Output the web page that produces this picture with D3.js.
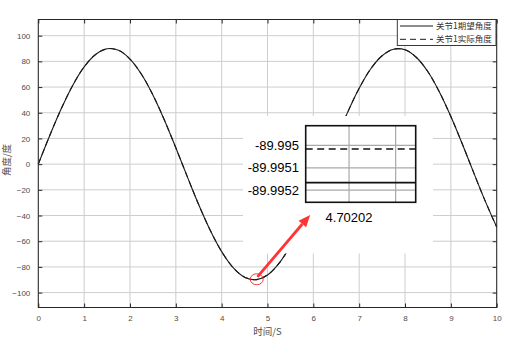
<!DOCTYPE html>
<html>
<head>
<meta charset="utf-8">
<script src="https://cdn.jsdelivr.net/npm/d3@7"></script>
<style>
  body { margin: 0; background: #fff; }
  text { font-family: "Liberation Sans", Arial, sans-serif; }
  .cjk { font-family: "Noto Sans CJK SC", sans-serif; }
</style>
</head>
<body>
<div id="chart"></div>
<script>
  // ------------ //
 // Chart data   //
// ------------ //
var timeS = [0, 0.25, 0.5, 0.75, 1, 1.25, 1.5, 1.75, 2, 2.25, 2.5, 2.75, 3, 3.25, 3.5, 3.75,
  4, 4.25, 4.5, 4.75, 5, 5.25, 5.5, 5.75, 6, 6.25, 6.5, 6.75, 7, 7.25, 7.5, 7.75,
  8, 8.25, 8.5, 8.75, 9, 9.25, 9.5, 9.75, 10];
var desiredAngle = [0, 22.3, 43.1, 61.3, 75.7, 85.4, 89.8, 88.6, 81.8, 70.0, 53.9, 34.4, 12.7, -9.7, -31.6, -51.4,
  -68.1, -80.5, -88.0, -89.9, -86.3, -77.3, -63.5, -45.7, -25.1, -3.0, 19.4, 40.5, 59.1, 74.1, 84.4, 89.5,
  89.0, 83.0, 71.9, 56.2, 37.1, 15.7, -6.8, -28.8, -49.0];
var actualAngle = desiredAngle.slice();

var xTicks = [0, 1, 2, 3, 4, 5, 6, 7, 8, 9, 10];
var yTicks = [-100, -80, -60, -40, -20, 0, 20, 40, 60, 80, 100];

var legendLabels = ["关节1期望角度", "关节1实际角度"];

// zoomed-in inset
var zoomTime = [4.7020107, 4.7020343];
var zoomDesired = [-89.995166, -89.995166];
var zoomActual = [-89.995016, -89.995016];
var zoomYTicks = [-89.995, -89.9951, -89.9952];
var zoomYLabels = ["-89.995", "-89.9951", "-89.9952"];
var zoomXTicks = [4.70202, 4.70203];
var zoomXLabels = ["4.70202", ""];

// marked point on the curve and where the arrow points
var markPoint = [4.765, -89.6];
var arrowTail = [4.78, -87.8];
var arrowHead = [5.93, -39.5];

  // ------------ //
 // Set up chart //
// ------------ //
var svgWidth = 517;
var svgHeight = 340;
var plotLeft = 38.3, plotRight = 496.7, plotTop = 19.5, plotBottom = 307.5;

var svg = d3.select("#chart")
  .append("svg")
  .attr("width", svgWidth)
  .attr("height", svgHeight);

svg.append("rect").attr("width", svgWidth).attr("height", svgHeight).attr("fill", "#fff");

var x = d3.scaleLinear().domain([0, 10]).range([plotLeft, plotRight]);
var y = d3.scaleLinear().domain([-111.6, 112.6]).range([plotBottom, plotTop]);

var axisColor = "#262626";
var gridColor = "#cdcdcd";

  // ----------- //
 // Grid lines  //
// ----------- //
svg.append("g").selectAll("line")
  .data(xTicks)
  .enter().append("line")
  .attr("x1", d => x(d)).attr("x2", d => x(d))
  .attr("y1", plotTop).attr("y2", plotBottom)
  .attr("stroke", gridColor).attr("stroke-width", 1);

svg.append("g").selectAll("line")
  .data(yTicks)
  .enter().append("line")
  .attr("x1", plotLeft).attr("x2", plotRight)
  .attr("y1", d => y(d)).attr("y2", d => y(d))
  .attr("stroke", gridColor).attr("stroke-width", 1);

  // ------------ //
 // Main curves  //
// ------------ //
var line = d3.line()
  .x(d => x(d[0]))
  .y(d => y(d[1]))
  .curve(d3.curveCatmullRom);

svg.append("path")
  .datum(timeS.map((t, i) => [t, actualAngle[i]]))
  .attr("d", line)
  .attr("fill", "none")
  .attr("stroke", "#1a1a1a")
  .attr("stroke-width", 1.1)
  .attr("stroke-dasharray", "6,4");

svg.append("path")
  .datum(timeS.map((t, i) => [t, desiredAngle[i]]))
  .attr("d", line)
  .attr("fill", "none")
  .attr("stroke", "#1a1a1a")
  .attr("stroke-width", 1.1);

  // ------------------------ //
 // Axes: box, ticks, labels //
// ------------------------ //
var bottomAxis = d3.axisBottom(x).tickValues(xTicks).tickSize(-4).tickPadding(8);
var topAxis = d3.axisTop(x).tickValues(xTicks).tickSize(-4).tickFormat("");
var leftAxis = d3.axisLeft(y).tickValues(yTicks).tickSize(-4).tickPadding(8);
var rightAxis = d3.axisRight(y).tickValues(yTicks).tickSize(-4).tickFormat("");

function styleAxis(g) {
  g.select(".domain").remove();
  g.selectAll(".tick line").attr("stroke", axisColor);
  g.selectAll(".tick text").attr("fill", "#4d4d4d").attr("font-size", 8)
    .attr("font-family", "Liberation Sans, Arial, sans-serif");
}

svg.append("g").attr("transform", `translate(0, ${plotBottom})`).call(bottomAxis).call(styleAxis);
svg.append("g").attr("transform", `translate(0, ${plotTop})`).call(topAxis).call(styleAxis);
svg.append("g").attr("transform", `translate(${plotLeft}, 0)`).call(leftAxis).call(styleAxis);
svg.append("g").attr("transform", `translate(${plotRight}, 0)`).call(rightAxis).call(styleAxis);

svg.append("rect")
  .attr("x", plotLeft).attr("y", plotTop)
  .attr("width", plotRight - plotLeft).attr("height", plotBottom - plotTop)
  .attr("fill", "none")
  .attr("stroke", axisColor)
  .attr("stroke-width", 1);

svg.append("text")
  .attr("class", "cjk")
  .attr("x", (plotLeft + plotRight) / 2)
  .attr("y", 335)
  .attr("text-anchor", "middle")
  .attr("font-size", 9.5)
  .attr("fill", "#4d4d4d")
  .text("时间/S");

svg.append("text")
  .attr("class", "cjk")
  .attr("transform", "translate(10, 160) rotate(-90)")
  .attr("text-anchor", "middle")
  .attr("font-size", 9.5)
  .attr("fill", "#4d4d4d")
  .text("角度/度");

  // -------- //
 // Legend   //
// -------- //
var legend = svg.append("g");
legend.append("rect")
  .attr("x", 397.3).attr("y", plotTop)
  .attr("width", 98.7).attr("height", 26)
  .attr("fill", "#fff")
  .attr("stroke", axisColor)
  .attr("stroke-width", 0.9);

legend.selectAll("line")
  .data(legendLabels)
  .enter().append("line")
  .attr("x1", 400).attr("x2", 433)
  .attr("y1", (d, i) => 26 + i * 13.3).attr("y2", (d, i) => 26 + i * 13.3)
  .attr("stroke", "#1a1a1a")
  .attr("stroke-width", 1)
  .attr("stroke-dasharray", (d, i) => i === 0 ? null : "6,4");

legend.selectAll("text")
  .data(legendLabels)
  .enter().append("text")
  .attr("class", "cjk")
  .attr("x", 436)
  .attr("y", (d, i) => 29 + i * 13.3)
  .attr("font-size", 8.5)
  .attr("fill", "#333")
  .text(d => d);

  // ------------------------------------ //
 // White patch behind the zoomed inset  //
// ------------------------------------ //
svg.append("rect")
  .attr("x", 243).attr("y", 116)
  .attr("width", 190).attr("height", 137.5)
  .attr("fill", "#fff");

  // ----------- //
 // Inset axes  //
// ----------- //
var ix = d3.scaleLinear().domain(zoomTime).range([305.7, 415.7]);
var iy = d3.scaleLinear().domain([-89.995254, -89.994912]).range([202.3, 125.7]);

var inset = svg.append("g");

inset.selectAll(".vg")
  .data(zoomXTicks)
  .enter().append("line")
  .attr("x1", d => ix(d)).attr("x2", d => ix(d))
  .attr("y1", iy.range()[1]).attr("y2", iy.range()[0])
  .attr("stroke", "#a8a8a8").attr("stroke-width", 1.2);

inset.selectAll(".hg")
  .data(zoomYTicks)
  .enter().append("line")
  .attr("x1", ix.range()[0]).attr("x2", ix.range()[1])
  .attr("y1", d => iy(d)).attr("y2", d => iy(d))
  .attr("stroke", "#a8a8a8").attr("stroke-width", 1.2);

var insetLine = d3.line()
  .x(d => ix(d[0]))
  .y(d => iy(d[1]));

inset.append("path")
  .datum(zoomTime.map((t, i) => [t, zoomActual[i]]))
  .attr("d", insetLine)
  .attr("fill", "none")
  .attr("stroke", "#111")
  .attr("stroke-width", 1.6)
  .attr("stroke-dasharray", "7,4.5");

inset.append("path")
  .datum(zoomTime.map((t, i) => [t, zoomDesired[i]]))
  .attr("d", insetLine)
  .attr("fill", "none")
  .attr("stroke", "#111")
  .attr("stroke-width", 1.6);

inset.append("rect")
  .attr("x", 305.7).attr("y", 125.7)
  .attr("width", 110).attr("height", 76.6)
  .attr("fill", "none")
  .attr("stroke", "#111")
  .attr("stroke-width", 1.6);

inset.selectAll(".yl")
  .data(zoomYTicks)
  .enter().append("text")
  .attr("x", 299)
  .attr("y", d => iy(d))
  .attr("dy", "0.35em")
  .attr("text-anchor", "end")
  .attr("font-size", 13)
  .attr("fill", "#000")
  .text((d, i) => zoomYLabels[i]);

inset.selectAll(".xl")
  .data(zoomXTicks)
  .enter().append("text")
  .attr("x", d => ix(d))
  .attr("y", 222)
  .attr("text-anchor", "middle")
  .attr("font-size", 13)
  .attr("fill", "#000")
  .text((d, i) => zoomXLabels[i]);

  // ------------------- //
 // Red marker + arrow  //
// ------------------- //
svg.append("ellipse")
  .attr("cx", x(markPoint[0])).attr("cy", y(markPoint[1]))
  .attr("rx", 6.5).attr("ry", 5.5)
  .attr("fill", "none")
  .attr("stroke", "#ff2020")
  .attr("stroke-width", 0.9);

var ax0 = x(arrowTail[0]), ay0 = y(arrowTail[1]);
var ax1 = x(arrowHead[0]), ay1 = y(arrowHead[1]);
var len = Math.hypot(ax1 - ax0, ay1 - ay0);
var ux = (ax1 - ax0) / len, uy = (ay1 - ay0) / len;
var headLen = 12, headHalf = 5;
var bx = ax1 - ux * headLen, by = ay1 - uy * headLen;

svg.append("line")
  .attr("x1", ax0).attr("y1", ay0)
  .attr("x2", bx).attr("y2", by)
  .attr("stroke", "#ff3535")
  .attr("stroke-width", 2.8);

svg.append("polygon")
  .attr("points", [
    [ax1, ay1],
    [bx - uy * headHalf, by + ux * headHalf],
    [bx + uy * headHalf, by - ux * headHalf]
  ].map(p => p.join(",")).join(" "))
  .attr("fill", "#ff3535");
</script>
</body>
</html>
